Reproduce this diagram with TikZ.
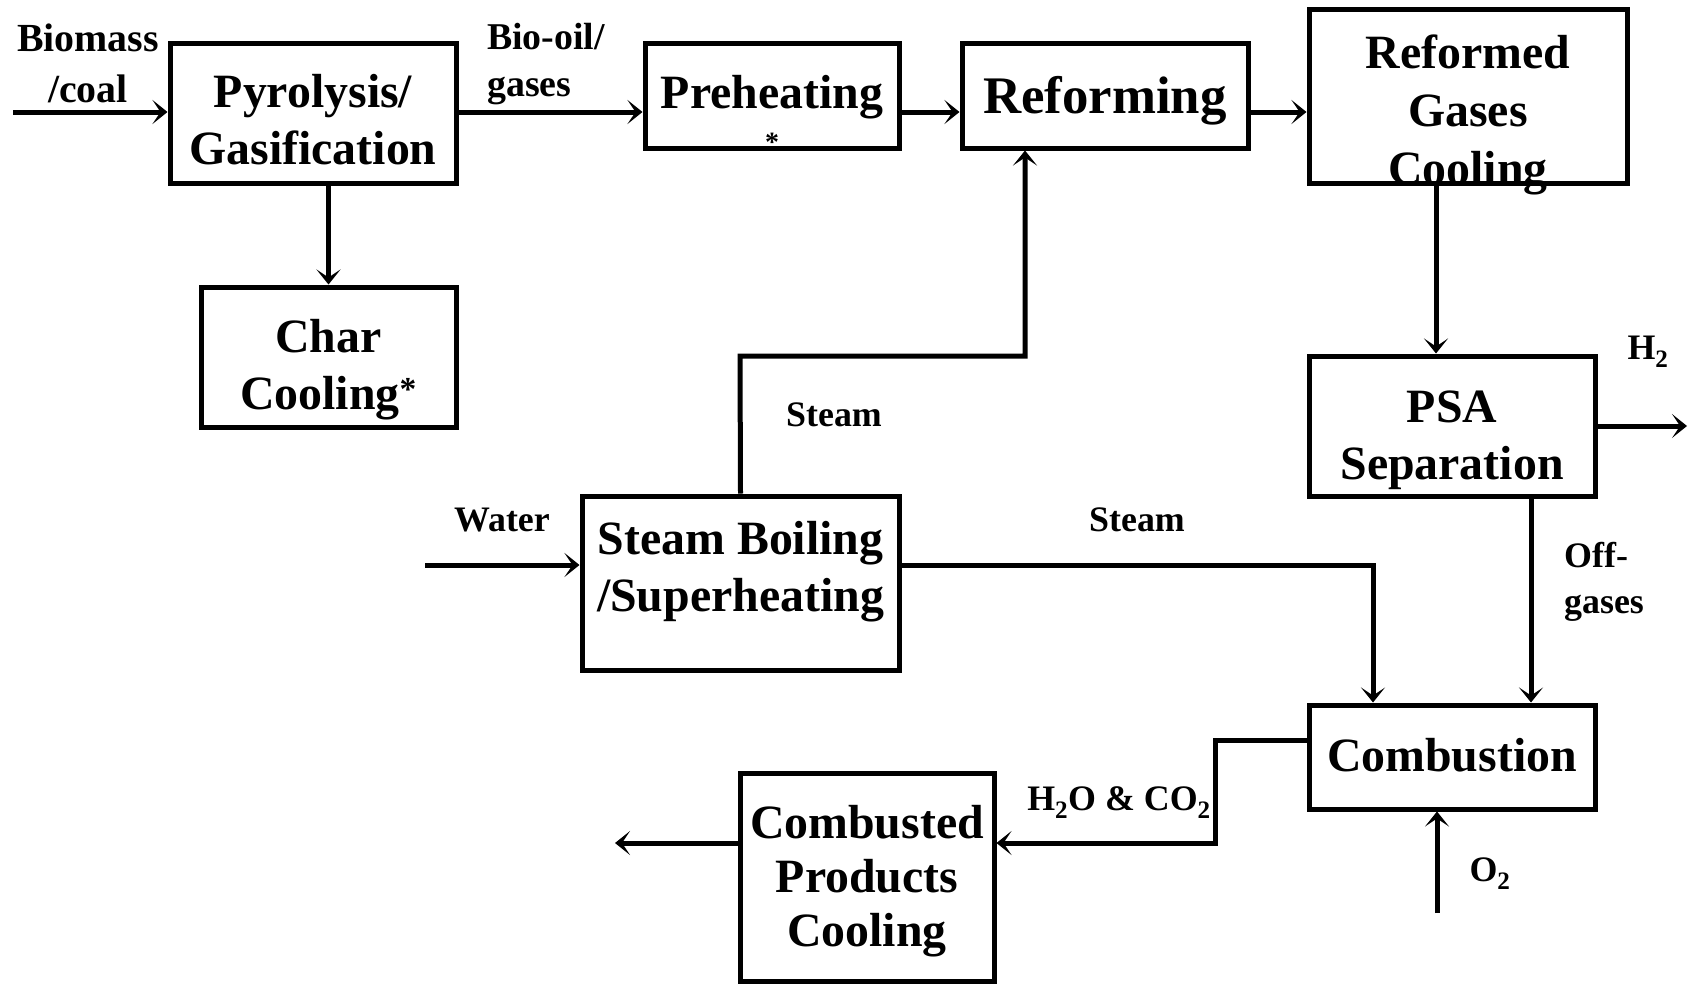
\documentclass[tikz,border=0pt]{standalone}
\usepackage{fontspec}
\setmainfont{Liberation Serif}
\usetikzlibrary{arrows.meta,calc}
\begin{document}
\begin{tikzpicture}[x=1bp,y=-1bp,
  box/.style={draw,line width=5bp,inner sep=0pt},
  btxt/.style={inner sep=0pt,align=center,font=\fontsize{48}{57}\selectfont\bfseries},
  lbl/.style={inner sep=0pt,font=\fontsize{36}{44}\selectfont\bfseries},
  flow/.style={line width=5bp,-{Stealth[length=15bp,width=24bp,inset=8bp]}}]
\useasboundingbox (0,0) rectangle (1698,984);
% boxes
\node[box,minimum width=286bp,minimum height=140bp] (pyro) at (313,113) {};
\node[btxt] (pyrot) at (313,120) {Pyrolysis/\\Gasification};
\node[box,minimum width=255bp,minimum height=140bp] (char) at (328.5,357) {};
\node[btxt] (chart) at (328.5,370) {Char\\Cooling\textsuperscript{*}};
\node[box,minimum width=254bp,minimum height=105bp] (pre) at (772,95.5) {};
\node[btxt] (pret) at (772,97.5) {Preheating};
\node[lbl,font=\fontsize{28}{30}\selectfont\bfseries] (prestar) at (772,142) {*};
\node[box,minimum width=286bp,minimum height=105bp] (ref) at (1105,95.5) {};
\node[btxt,font=\fontsize{53}{60}\selectfont\bfseries] (reft) at (1105,101) {Reforming};
\node[box,minimum width=318bp,minimum height=174bp] (rgc) at (1468,96) {};
\node[btxt,font=\fontsize{48}{58}\selectfont\bfseries] (rgct) at (1468,115) {Reformed\\Gases\\Cooling};
\node[box,minimum width=286bp,minimum height=140bp] (psa) at (1452,426) {};
\node[btxt] (psat) at (1452,440) {PSA\\Separation};
\node[box,minimum width=317bp,minimum height=174bp] (sb) at (740.5,583) {};
\node[btxt] (sbt) at (740.5,572) {Steam Boiling\\/Superheating};
\node[box,minimum width=286bp,minimum height=104bp] (comb) at (1452,757) {};
\node[btxt] (combt) at (1452,755) {Combustion};
\node[box,minimum width=254bp,minimum height=208bp] (cpc) at (867,877) {};
\node[btxt,font=\fontsize{48}{54}\selectfont\bfseries] (cpct) at (867,881) {Combusted\\Products\\Cooling};
% coordinates
\coordinate (bioin) at (13,112);
\coordinate (h2out) at (1687,426);
\coordinate (win) at (425,565);
\coordinate (bend1) at (740,356);
\coordinate (k2) at (1215,843);
\coordinate (cpcout) at (615,843);
\coordinate (o2in) at (1437,913);
% connectors
\draw[flow] (bioin) -- (bioin -| pyro.west);
\draw[flow] (pyro.east |- bioin) -- (pre.west |- bioin);
\draw[flow] (pre.east |- bioin) -- (ref.west |- bioin);
\draw[flow] (ref.east |- bioin) -- (rgc.west |- bioin);
\draw[flow] (char.north |- pyro.south) -- (char.north);
\draw[flow] ([xshift=-16bp]psa.north |- rgc.south) -- ([xshift=-16bp]psa.north);
\draw[flow] (psa.east) -- (h2out);
\draw[flow] ([xshift=79bp]psa.south) -- ([xshift=79bp]comb.north);
\draw[flow] (sb.north) -- (bend1) -| ([xshift=-80bp]ref.south);
\draw[flow] (sb.east |- win) -| ([xshift=-79bp]comb.north);
\draw[flow] (win) -- (win -| sb.west);
\draw[flow] ([yshift=17bp]comb.west) -| (k2) -- (k2 -| cpc.east);
\draw[flow] (k2 -| cpc.west) -- (cpcout);
\draw[flow] (o2in) -- (o2in |- comb.south);
% labels
\node[lbl,align=center,font=\fontsize{40}{51}\selectfont\bfseries] (biolbl) at (88,63) {Biomass\\/coal};
\node[lbl,align=left,anchor=west,font=\fontsize{38}{48}\selectfont\bfseries] (oillbl) at (487,64) {Bio-oil/\\gases};
\node[lbl] (steam1) at (834,415) {Steam};
\node[lbl] (steam2) at (1137,520) {Steam};
\node[lbl] (water) at (502,520) {Water};
\node[lbl,align=left,anchor=west,font=\fontsize{36}{46}\selectfont\bfseries] (offlbl) at (1564,582) {Off-\\gases};
\node[lbl] (h2lbl) at (1648,352) {H\textsubscript{2}};
\node[lbl] (exlbl) at (1119,803) {H\textsubscript{2}O \& CO\textsubscript{2}};
\node[lbl] (o2lbl) at (1490,874) {O\textsubscript{2}};
\end{tikzpicture}
\end{document}
